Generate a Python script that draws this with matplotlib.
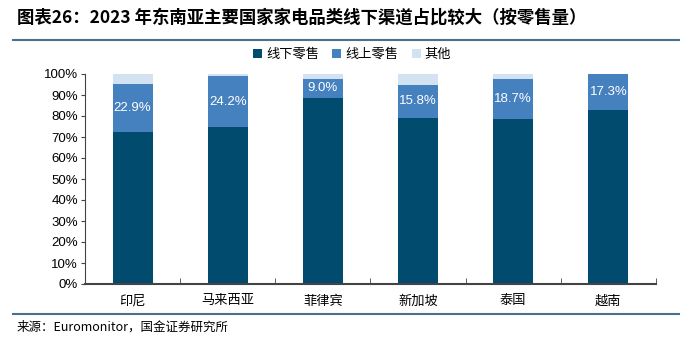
import matplotlib
matplotlib.use('Agg')
import matplotlib.pyplot as plt
import numpy as np
from matplotlib.lines import Line2D

plt.rcParams['font.family'] = ['Liberation Sans', 'Noto Sans CJK SC', 'DejaVu Sans']

# Data
countries = ['印尼', '马来西亚', '菲律宾', '新加坡', '泰国', '越南']
offline = [72.5, 74.7, 88.8, 79.1, 78.8, 82.7]
online = [22.9, 24.2, 9.0, 15.8, 18.7, 17.3]
other = [4.6, 1.1, 2.2, 5.1, 2.5, 0.0]
series_names = ['线下零售', '线上零售', '其他']
colors = ['#004B6E', '#4580BF', '#D3E2F1']

fig = plt.figure(figsize=(6.92, 3.39), dpi=100)
ax = fig.add_axes([85/692, 1 - 284/339, 571/692, 210/339])

x = np.arange(len(countries))
w = 0.42
ax.bar(x, offline, w, color=colors[0], label=series_names[0])
ax.bar(x, online, w, bottom=offline, color=colors[1], label=series_names[1])
ax.bar(x, other, w, bottom=np.add(offline, online), color=colors[2], label=series_names[2])

for xi, b, v in zip(x, offline, online):
    ax.text(xi, b + v / 2, f'{v:.1f}%', ha='center', va='center', color='white', fontsize=9.5)

ax.set_xlim(-0.5, len(countries) - 0.5)
ax.set_ylim(0, 100)
ax.set_yticks(np.arange(0, 101, 10))
ax.set_yticklabels([f'{t}%' for t in range(0, 101, 10)], fontsize=9.5)
ax.set_xticks(x)
ax.set_xticklabels(countries, fontsize=9.5)
ax.tick_params(axis='x', length=0, pad=8)
ax.set_xticks(np.arange(-0.5, len(countries)), minor=True)
ax.tick_params(axis='x', which='minor', direction='in', length=4, color='#444444')
ax.tick_params(axis='y', direction='out', length=3, color='#444444', pad=2)
for s in ['top', 'right']:
    ax.spines[s].set_visible(False)
for s in ['left', 'bottom']:
    ax.spines[s].set_color('#444444')
ax.spines['bottom'].set_linewidth(1.5)

leg = fig.legend(loc='center', bbox_to_anchor=(352/692, 1 - 55/339), ncol=3, frameon=False,
                 fontsize=9.5, handlelength=0.7, handleheight=0.7, handletextpad=0.3,
                 columnspacing=1.0)

fig.text(17/692, 1 - 18/339, '图表26：2023 年东南亚主要国家家电品类线下渠道占比较大（按零售量）',
         fontsize=12.5, fontweight='bold', va='center', ha='left',
         family=['Noto Sans CJK SC', 'DejaVu Sans'])
fig.add_artist(Line2D([13/692, 679/692], [1 - 40/339, 1 - 40/339], color='#4A7090', linewidth=1.5))
fig.add_artist(Line2D([13/692, 679/692], [1 - 314/339, 1 - 314/339], color='#4A7090', linewidth=1.5))
fig.text(17/692, 1 - 327/339, '来源：Euromonitor，国金证券研究所', fontsize=9, va='center', ha='left',
         family=['Noto Sans CJK SC', 'DejaVu Sans'])

plt.savefig('out.png', dpi=100)
